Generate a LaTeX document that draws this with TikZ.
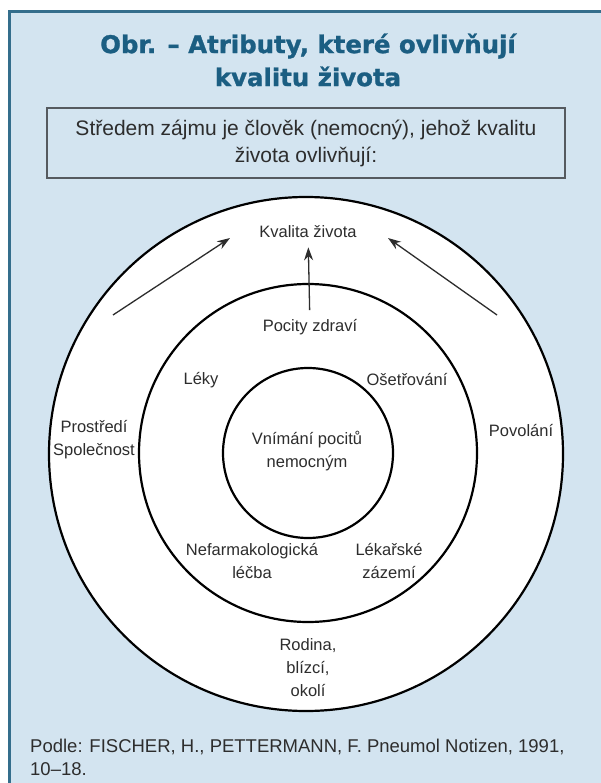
\documentclass[tikz,border=0pt]{standalone}
\usepackage{fontspec}
\setmainfont{Liberation Sans}
\newfontfamily\titlefont{DejaVu Sans}[BoldFont={DejaVu Sans Bold},BoldFeatures={FakeBold=1.2}]
\usetikzlibrary{arrows.meta}
\definecolor{framebg}{RGB}{211,228,240}
\definecolor{frameline}{RGB}{52,110,140}
\definecolor{titleblue}{RGB}{27,94,130}
\definecolor{labelgray}{RGB}{45,45,45}
\definecolor{boxline}{RGB}{85,90,95}

\begin{document}
\begin{tikzpicture}[x=1pt,y=-1pt,
	ring/.style={circle,draw=black,fill=white,line width=2.2pt,inner sep=0pt},
	lbl/.style={text=labelgray,font=\fontsize{16.5}{23}\selectfont,align=center,inner sep=1pt},
	arr/.style={-{Stealth[length=13pt,width=9pt]},line width=1.3pt,draw=labelgray}]
	\useasboundingbox (0,0) rectangle (601,783);
	
	\fill[framebg] (9,12) rectangle (601,783);
	\draw[frameline,line width=3pt] (9,783) -- (9,12) -- (601,12);
	
	\node[text=titleblue,font=\titlefont\bfseries\fontsize{24.4}{33}\selectfont,align=center]
		(title) at (308,60) {Obr. – Atributy, které ovlivňují\\kvalitu života};
	\node[draw=boxline,line width=1.5pt,minimum width=518,minimum height=70,align=center,
		text=labelgray,font=\fontsize{21}{27}\selectfont]
		(intro) at (306,143) {Středem zájmu je člověk (nemocný), jehož kvalitu\\života ovlivňují:};
	
	\node[ring,minimum size=514] (outer) at (306,454) {};
	\node[ring,minimum size=338] (middle) at (308,453) {};
	\node[ring,minimum size=170] (inner) at (308,453) {};
	
	\node[lbl] (kvalita) at (308,232) {Kvalita života};
	\node[lbl] (pocity) at (310,327) {Pocity zdraví};
	\node[lbl] (leky) at (201,380) {Léky};
	\node[lbl] (osetr) at (407,380) {Ošetřování};
	\node[lbl] (prostr) at (94,440) {Prostředí\\Společnost};
	\node[lbl] (povol) at (521,431) {Povolání};
	\node[lbl] (vnimani) at (307,451) {Vnímání pocitů\\nemocným};
	\node[lbl] (nefarm) at (252,561) {Nefarmakologická\\léčba};
	\node[lbl] (lekar) at (389,561) {Lékařské\\zázemí};
	\node[lbl] (rodina) at (308,668) {Rodina,\\blízcí,\\okolí};
	
	\coordinate (ltail) at (113,315);
	\coordinate (lhead) at (230,238);
	\coordinate (rtail) at (497,315);
	\coordinate (rhead) at (388,238);
	\draw[arr] (ltail) -- (lhead);
	\draw[arr] (rtail) -- (rhead);
	\draw[arr,shorten <=8pt,shorten >=8pt] (pocity) -- (kvalita);
	
	\node[anchor=north west,align=left,text=labelgray,font=\fontsize{18.5}{23}\selectfont,inner sep=0pt]
		(zdroj) at (30,739) {Podle: FISCHER, H., PETTERMANN, F. Pneumol Notizen, 1991,\\10–18.};
\end{tikzpicture}
\end{document}
